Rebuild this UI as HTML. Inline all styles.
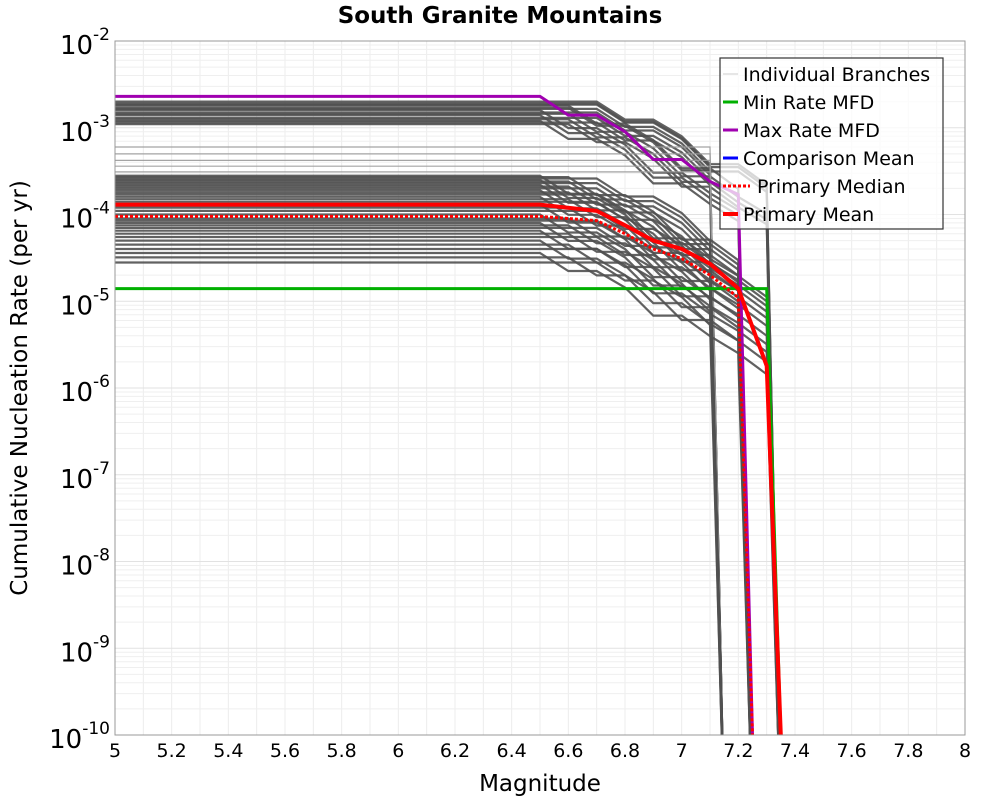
<!DOCTYPE html>
<html><head><meta charset="utf-8"><style>
body{margin:0;background:#fff;font-family:"DejaVu Sans","Liberation Sans",sans-serif}
svg text{font-family:"DejaVu Sans","Liberation Sans",sans-serif}
</style></head><body>
<svg id="chart" width="1000" height="800" xmlns="http://www.w3.org/2000/svg">
<defs><clipPath id="plotclip"><rect x="115" y="41" width="850" height="694"/></clipPath></defs>
<rect width="1000" height="800" fill="#fff"/>
<text x="500" y="23" text-anchor="middle" font-size="23" font-weight="bold">South Granite Mountains</text>
<g id="grid"></g>
<g id="branches" clip-path="url(#plotclip)"></g>
<g id="summary" clip-path="url(#plotclip)"></g>
<rect x="115" y="41" width="850" height="694" fill="none" stroke="#999" stroke-width="1"/>
<g id="axes"></g>
<text x="540" y="791" text-anchor="middle" font-size="23">Magnitude</text>
<text transform="translate(27,388) rotate(-90)" text-anchor="middle" font-size="23">Cumulative Nucleation Rate (per yr)</text>
<g>
<rect x="720" y="58" width="223" height="171" fill="#fff" fill-opacity="0.75" stroke="#333" stroke-width="1.2"/>
<line x1="723" y1="74" x2="738" y2="74" stroke="#ccc" stroke-width="1"/><text x="743" y="81" font-size="19">Individual Branches</text>
<line x1="723" y1="102" x2="738" y2="102" stroke="#00b000" stroke-width="3"/><text x="743" y="109" font-size="19">Min Rate MFD</text>
<line x1="723" y1="130" x2="738" y2="130" stroke="#a000b0" stroke-width="3"/><text x="743" y="137" font-size="19">Max Rate MFD</text>
<line x1="723" y1="158" x2="738" y2="158" stroke="#0000ff" stroke-width="3"/><text x="743" y="165" font-size="19">Comparison Mean</text>
<line x1="723" y1="186" x2="750" y2="186" stroke="#ff0000" stroke-width="3" stroke-dasharray="3,2"/><text x="757" y="193" font-size="19">Primary Median</text>
<line x1="723" y1="214" x2="738" y2="214" stroke="#ff0000" stroke-width="4"/><text x="743" y="221" font-size="19">Primary Mean</text>
</g>
</svg>
<script>
// data
const branchStart=[2.0e-3,1.9e-3,1.85e-3,1.8e-3,1.7e-3,1.65e-3,1.6e-3,1.5e-3,1.45e-3,1.4e-3,1.3e-3,1.25e-3,1.2e-3,1.15e-3,1.1e-3,
 6e-4,5e-4,4.2e-4,3.6e-4,3.1e-4,2.8e-4,2.7e-4,2.6e-4,2.5e-4,2.4e-4,2.3e-4,2.2e-4,2.1e-4,2.0e-4,1.9e-4,1.8e-4,1.7e-4,1.6e-4,
 1.5e-4,1.4e-4,1.3e-4,1.2e-4,1.1e-4,1.0e-4,9e-5,8.5e-5,8e-5,7.5e-5,7e-5,6.5e-5,6e-5,5.5e-5,5e-5,4.5e-5,4e-5,3.6e-5,3.2e-5,2.8e-5];
const branchMaxMag=[7.3,7.1,7.3,7.2,7.1,7.3,7.2,7.1,7.3,7.2,7.1,7.3,7.2,7.1,7.3,
 7.1,7.1,7.1,7.1,7.1,7.3,7.2,7.1,7.3,7.2,7.1,7.3,7.2,7.1,7.3,7.2,7.1,7.3,
 7.2,7.1,7.3,7.2,7.1,7.3,7.2,7.1,7.3,7.2,7.1,7.3,7.2,7.1,7.3,7.2,7.1,7.3,7.2,7.1];
const branchKnee=[0.2,0.2,0.2,0.1,0.1,0.2,0,0.2,0.1,0,0.2,0.1,0,0.2,0.1,
 9,9,9,9,9,0,0.1,0.2,0,0.1,0.2,0,0.1,0.2,0,0.1,0.2,0,0.1,0.2,0,0.1,0.2,0,0.1,0.2,0,0.1,0.2,0,0.1,0.2,0,0.1,0.2,0,0.1,0.2];
const shapeMags=[5,6.5,6.6,6.7,6.8,6.9,7.0,7.1,7.2,7.3];
const shapeFactor=[1,1,0.62,0.62,0.4,0.19,0.19,0.11,0.07,0.04];
const meanMags=[5,6.5,6.7,6.8,6.9,7.0,7.1,7.2,7.3,7.35];
const meanRates=[1.3e-4,1.3e-4,1.1e-4,7.5e-5,5e-5,4e-5,2.7e-5,1.4e-5,1.8e-6,1e-10];
const medianMags=[5,6.5,6.7,6.8,6.9,7.0,7.1,7.2,7.25];
const medianRates=[9.5e-5,9.5e-5,8.5e-5,6e-5,4e-5,3.1e-5,2e-5,1.1e-5,1e-10];
const maxMags=[5,6.5,6.6,6.7,6.8,6.9,7.0,7.1,7.2,7.25];
const maxRates=[2.3e-3,2.3e-3,1.4e-3,1.4e-3,9e-4,4.3e-4,4.3e-4,2.4e-4,1.7e-4,1e-10];
const minMags=[5,6.9,7.0,7.1,7.2,7.3,7.35];
const minRates=[1.4e-5,1.4e-5,1.4e-5,1.4e-5,1.4e-5,1.4e-5,1e-10];
const xTicks=[5,5.2,5.4,5.6,5.8,6,6.2,6.4,6.6,6.8,7,7.2,7.4,7.6,7.8,8];
const yExps=[-2,-3,-4,-5,-6,-7,-8,-9,-10];

const L=115,R=965,T=41,B=735;
const X=m=>L+(m-5)/3*(R-L);
const Y=v=>T+(-2-Math.log10(Math.max(v,1e-12)))/8*(B-T);
const NS='http://www.w3.org/2000/svg';
function mk(tag,parent,attrs){const e=document.createElementNS(NS,tag);for(const k in attrs)e.setAttribute(k,attrs[k]);parent.appendChild(e);return e;}
const grid=document.getElementById('grid'),axes=document.getElementById('axes');
for(let m=5;m<=8.001;m+=0.1){const l=mk('line',grid,{x1:X(m),x2:X(m),y1:T,y2:B,stroke:'#ececec','stroke-width':1});

}
for(let e=-10;e<-2;e++)for(let k=1;k<10;k++){const yy=Y(k*Math.pow(10,e));const l=mk('line',grid,{x1:L,x2:R,y1:yy,y2:yy,stroke:k==1?'#e2e2e2':'#efefef','stroke-width':1});

}
xTicks.forEach(m=>{const t=mk('text',axes,{x:X(m),y:757,'text-anchor':'middle','font-size':19});t.textContent=String(m);

});
yExps.forEach(e=>{const t=mk('text',axes,{x:110,y:Y(Math.pow(10,e))+13,'text-anchor':'end','font-size':26});


t.textContent='10';const s=mk('tspan',t,{dy:-14,'font-size':17});s.textContent=String(e);});
function path(parent,mags,rates,attrs){const d=mags.map((m,i)=>(i?'L':'M')+X(m).toFixed(1)+','+Y(rates[i]).toFixed(1)).join('');
return mk('path',parent,Object.assign({d:d,fill:'none'},attrs));}
const bg=document.getElementById('branches');
branchStart.forEach((s,i)=>{const k=branchKnee[i];const mm=branchMaxMag[i];const ms=[],rs=[];
 shapeMags.forEach((m,j)=>{const mag=j==0?5:Math.min(m+(k>5?0:k),mm);if(j>0&&mag<=ms[ms.length-1])return;ms.push(mag);rs.push(s*(k>5?1:shapeFactor[j]));});
 if(ms[ms.length-1]<mm){ms.push(mm);rs.push(rs[rs.length-1]);}
 ms.push(mm+0.05);rs.push(1e-11);
 const p=path(bg,ms,rs,{stroke:k>5?'#9a9a9a':'#505050','stroke-width':k>5?1.2:2.2,'stroke-opacity':0.9});
 
 });
const sg=document.getElementById('summary');
let p=path(sg,minMags,minRates,{stroke:'#00b000','stroke-width':3});


p=path(sg,maxMags,maxRates,{stroke:'#a000b0','stroke-width':3});


p=path(sg,medianMags,medianRates,{stroke:'#ff0000','stroke-width':3,'stroke-dasharray':'3,2'});


p=path(sg,meanMags,meanRates,{stroke:'#ff0000','stroke-width':4});


</script>
</body></html>
